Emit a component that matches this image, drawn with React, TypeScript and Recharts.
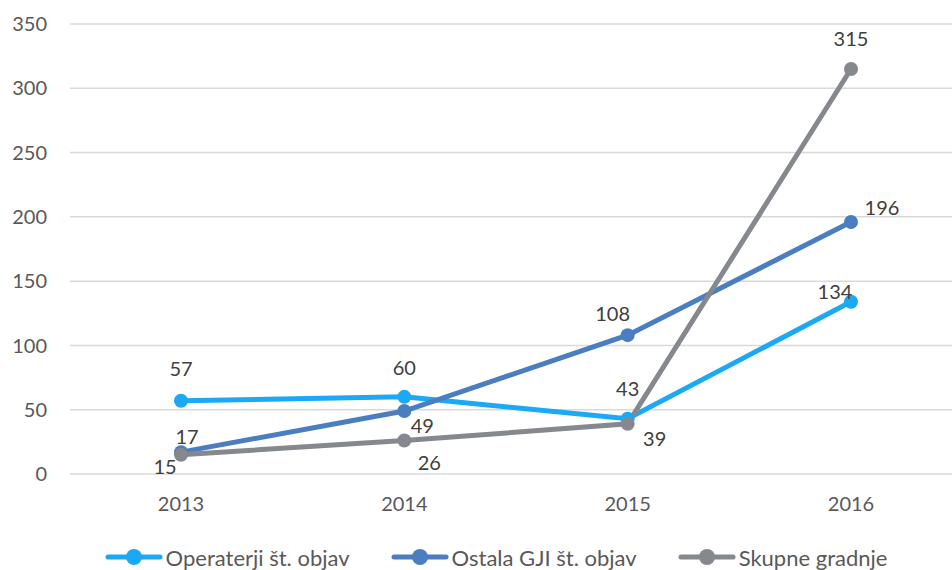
import React from "react";
import {
  LineChart,
  Line,
  XAxis,
  YAxis,
  CartesianGrid,
  Legend,
  LabelList,
} from "recharts";

const years = ["2013", "2014", "2015", "2016"];
const operaterji = [57, 60, 43, 134];
const ostala = [17, 49, 108, 196];
const skupne = [15, 26, 39, 315];
const yTicks = [0, 50, 100, 150, 200, 250, 300, 350];

const data = years.map((year, i) => ({
  year,
  operaterji: operaterji[i],
  ostala: ostala[i],
  skupne: skupne[i],
}));

const FONT = "Lato, 'Open Sans', sans-serif";
const TEXT = "#595959";

const series = [
  { key: "operaterji", name: "Operaterji št. objav", color: "#1BA9F5" },
  { key: "ostala", name: "Ostala GJI št. objav", color: "#4A7EC0" },
  { key: "skupne", name: "Skupne gradnje", color: "#85888D" },
];

// label offsets from each point, per series
const labelOffsets: Record<string, [number, number][]> = {
  operaterji: [[0, -33], [0, -30], [0, -31], [-16, -11]],
  ostala: [[6, -16], [18, 14], [-15, -22], [31, -15]],
  skupne: [[-16, 11], [25, 21], [27, 14], [0, -31]],
};

const makeLabel = (key: string) => (props: any) => {
  const { x, y, value, index } = props;
  const [dx, dy] = labelOffsets[key][index];
  return (
    <text
      x={x + dx}
      y={y + dy}
      textAnchor="middle"
      dominantBaseline="central"
      fill="#404040"
      fontSize={20}
      fontFamily={FONT}
    >
      {value}
    </text>
  );
};

const renderLegend = () => (
  <div
    style={{
      display: "flex",
      justifyContent: "center",
      alignItems: "center",
      height: 40,
      boxSizing: "border-box",
      paddingTop: 14,
      fontFamily: FONT,
      fontSize: 22,
      color: TEXT,
      paddingLeft: 40,
      gap: 41,
    }}
  >
    {series.map((s) => (
      <div key={s.key} style={{ display: "flex", alignItems: "center" }}>
        <svg width={58} height={18} style={{ marginRight: 3 }}>
          <line x1={3} y1={9} x2={55} y2={9} stroke={s.color} strokeWidth={5} strokeLinecap="round" />
          <circle cx={29} cy={9} r={8} fill={s.color} />
        </svg>
        <span>{s.name}</span>
      </div>
    ))}
  </div>
);

export default function App() {
  return (
    <div style={{ position: "absolute", left: 0, top: 0, background: "#fff" }}>
      <LineChart
        width={952}
        height={570}
        data={data}
        margin={{ top: 24, right: 0, left: 0, bottom: 0 }}
      >
        <CartesianGrid vertical={false} stroke="#D9D9D9" strokeWidth={1.5} />
        <XAxis
          dataKey="year"
          axisLine={false}
          tickLine={false}
          tickSize={0}
          tickMargin={23}
          height={56}
          padding={{ left: 111, right: 101 }}
          tick={{ fill: TEXT, fontSize: 20, fontFamily: FONT }}
        />
        <YAxis
          domain={[0, 350]}
          ticks={yTicks}
          axisLine={false}
          tickLine={false}
          tickSize={0}
          tickMargin={23}
          width={70}
          tick={{ fill: TEXT, fontSize: 20, fontFamily: FONT }}
        />
        <Legend verticalAlign="bottom" height={40} content={renderLegend} />
        {series.map((s) => (
          <Line
            key={s.key}
            dataKey={s.key}
            name={s.name}
            stroke={s.color}
            strokeWidth={5}
            dot={{ r: 7, fill: s.color, stroke: s.color, strokeWidth: 0 }}
            activeDot={false}
            isAnimationActive={false}
          >
            <LabelList dataKey={s.key} content={makeLabel(s.key)} />
          </Line>
        ))}
      </LineChart>
    </div>
  );
}
